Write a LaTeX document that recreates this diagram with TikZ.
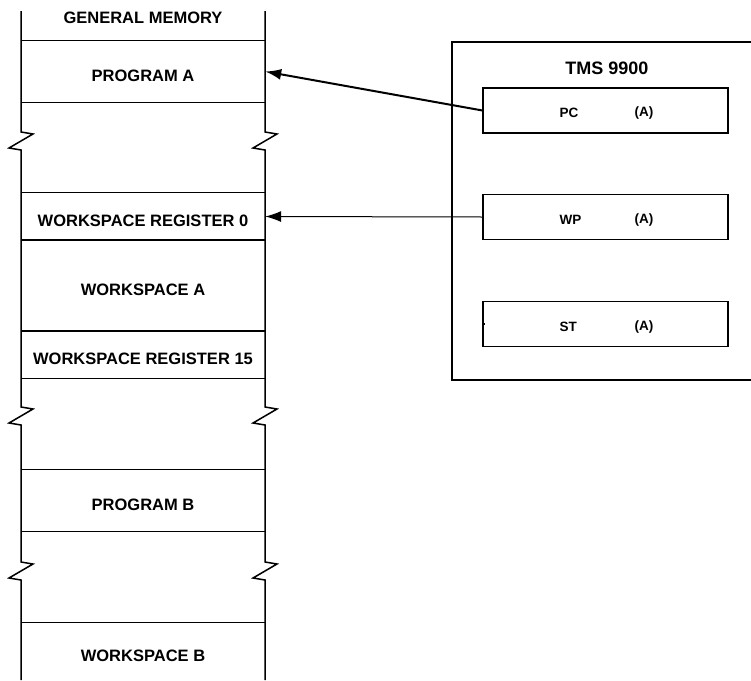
\documentclass[tikz,border=0pt]{standalone}
\usepackage{fontspec}
\setmainfont{Liberation Sans}
\usetikzlibrary{arrows.meta}

\tikzset{
  memfont/.style={font=\fontsize{16.5}{18}\selectfont\bfseries},
  cell/.style={memfont, minimum width=244pt, minimum height=#1, inner sep=0pt, text height=21pt},
  row/.style={line width=1.1pt},
  side/.style={line width=1.5pt, line join=miter},
  frame/.style={line width=1.1pt},
  reg/.style={draw, line width=1.1pt, minimum width=245pt, minimum height=45pt, inner sep=0pt},
  regtext/.style={font=\fontsize{13.5}{15}\selectfont\bfseries, inner sep=0pt, text height=15pt, anchor=west},
  ptr/.style={-{Latex[length=16pt,width=11pt]}}
}

\begin{document}
\begin{tikzpicture}[x=1pt,y=-1pt]
\useasboundingbox (0,0) rectangle (751,680);

% memory column
\node[memfont] (gen) at (143,17.5) {GENERAL MEMORY};
\node[cell=61pt] (proga) at (143,71.5) {PROGRAM A};
\node[cell=47pt] (wr0) at (143,216.5) {WORKSPACE REGISTER 0};
\node[cell=91pt] (wsa) at (143,285.5) {WORKSPACE A};
\node[cell=47pt] (wr15) at (143,354.5) {WORKSPACE REGISTER 15};
\node[cell=61pt] (progb) at (143,500.5) {PROGRAM B};
\node[cell=57pt] (wsb) at (143,651.5) {WORKSPACE B};

\foreach \c in {proga,wr0,wsa,wr15,progb,wsb}
  \draw[row] (\c.north west) -- (\c.north east);
\foreach \c in {proga,wr0,wsa,wr15,progb}
  \draw[row] (\c.south west) -- (\c.south east);

% sides with breaks
\foreach \x in {21,265}
  \draw[side] (\x,11) \foreach \y in {132,407,562} {-- (\x,\y) -- ++(12,2) -- ++(-24,14) -- ++(12,2)} -- (\x,680);

% processor
\draw[frame] (751,42) -- (452,42) -- (452,380) -- (751,380);
\node[font=\fontsize{18}{20}\selectfont\bfseries] (cpu) at (607,68) {TMS 9900};

\foreach \r/\n/\y in {pc/PC/110.5, wp/WP/217, st/ST/324} {
  \node[reg] (\r) at (605.5,\y) {};
  \node[regtext, xshift=77pt] (\r name) at (\r.west) {\n};
  \node[regtext, xshift=152pt] (\r val) at (\r.west) {(A)};
}
\draw[row] (st.west) -- ++(3,0);

% pointers
\draw[ptr, line width=2pt] (pc.west) -- (proga.east);
\draw[ptr, line width=1pt] (wp.west) -- (wr0.east);
\end{tikzpicture}
\end{document}
